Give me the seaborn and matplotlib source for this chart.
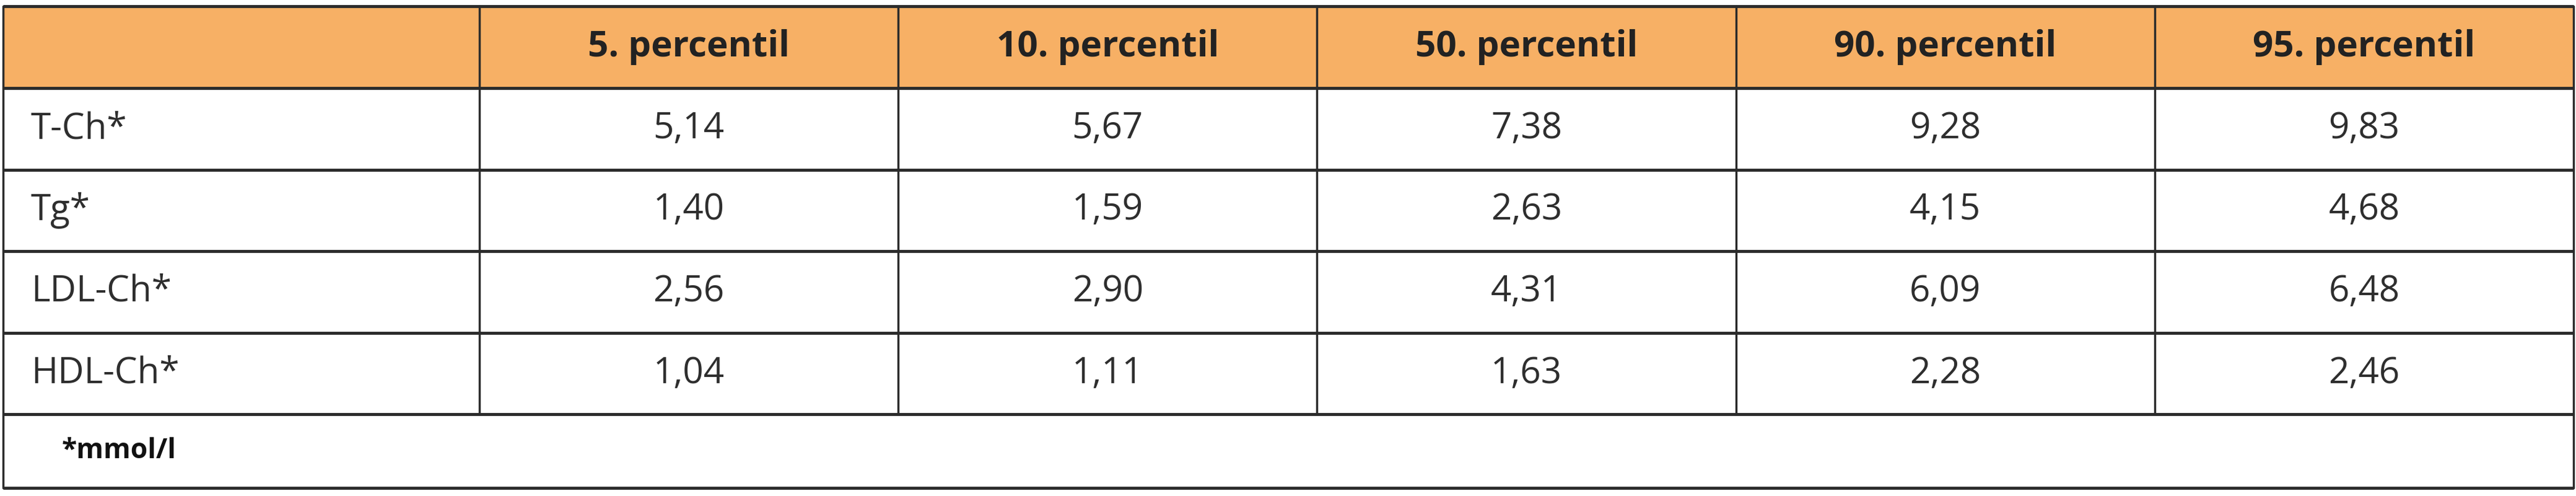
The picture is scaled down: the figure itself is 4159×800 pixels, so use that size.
import matplotlib
matplotlib.use("Agg")
import matplotlib.pyplot as plt
import seaborn as sns

sns.set_theme(style="white")
plt.rcParams['font.family'] = ['Open Sans', 'DejaVu Sans']

columns = ["5. percentil", "10. percentil", "50. percentil", "90. percentil", "95. percentil"]
rows = ["T-Ch*", "Tg*", "LDL-Ch*", "HDL-Ch*"]
values = [
    ["5,14", "5,67", "7,38", "9,28", "9,83"],
    ["1,40", "1,59", "2,63", "4,15", "4,68"],
    ["2,56", "2,90", "4,31", "6,09", "6,48"],
    ["1,04", "1,11", "1,63", "2,28", "2,46"],
]
footnote = "*mmol/l"

W, H = 4159, 800
fig = plt.figure(figsize=(W / 100, H / 100), dpi=100)
ax = fig.add_axes([0, 0, 1, 1])
ax.set_xlim(0, W)
ax.set_ylim(H, 0)
ax.axis("off")

left, right = 5, 4155
first_w = 774
col_w = (right - first_w) / len(columns)
xs = [left, first_w] + [first_w + col_w * (i + 1) for i in range(len(columns))]
top, head_b = 10, 142
row_h = 131.5
ys = [top, head_b] + [head_b + row_h * (i + 1) for i in range(len(rows))]
foot_b = 787
line_c = "#2b2b2b"
text_c = "#2e2e2e"

ax.fill_between([left, right], top, head_b, color="#F7B065", zorder=0)

for y in ys + [foot_b]:
    ax.plot([left, right], [y, y], color=line_c, lw=3.5, solid_capstyle="butt", zorder=2)
for i, x in enumerate(xs):
    y_end = foot_b if i in (0, len(xs) - 1) else ys[-1]
    ax.plot([x, x], [top, y_end], color=line_c, lw=2.5, zorder=2)

for j, c in enumerate(columns):
    ax.text((xs[j + 1] + xs[j + 2]) / 2, (top + head_b) / 2, c, ha="center", va="center",
            fontsize=42, fontweight="bold", color="#222222")

for i, r in enumerate(rows):
    yc = (ys[i + 1] + ys[i + 2]) / 2
    ax.text(left + 45, yc, r, ha="left", va="center", fontsize=42, color=text_c)
    for j, v in enumerate(values[i]):
        ax.text((xs[j + 1] + xs[j + 2]) / 2, yc, v, ha="center", va="center",
                fontsize=42, color=text_c)

ax.text(left + 95, (ys[-1] + foot_b) / 2, footnote, ha="left", va="center",
        fontsize=32, fontweight="bold", color="#111111")

fig.savefig("out.png", dpi=100)
